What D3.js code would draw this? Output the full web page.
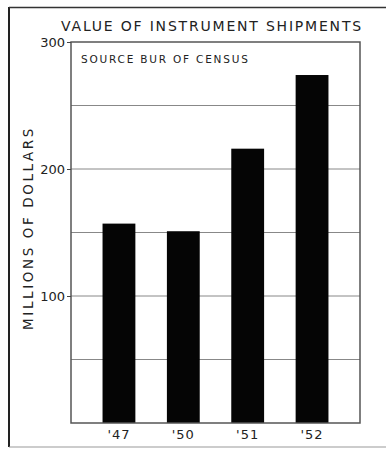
<!DOCTYPE html>
<html>
<head>
<meta charset="utf-8">
<style>
body { margin: 0; background: #fff; }
text { font-family: "DejaVu Sans", sans-serif; fill: #222; }
</style>
</head>
<body>
<svg width="386" height="449"></svg>
<script src="https://d3js.org/d3.v7.min.js"></script>
<script>
var years = ["'47", "'50", "'51", "'52"];
var values = [157, 151, 216, 274];
var tickValues = [100, 200, 300];
var gridValues = [50, 100, 150, 200, 250];

var svg = d3.select("svg"),
  margin = {top: 42, right: 26, bottom: 26, left: 71},
  width = +svg.attr("width") - margin.left - margin.right,
  height = +svg.attr("height") - margin.top - margin.bottom;

// outer frame
svg.append("line").attr("x1", 9).attr("x2", 9).attr("y1", 7).attr("y2", 447)
  .attr("stroke", "#222").attr("stroke-width", 2);
svg.append("line").attr("x1", 9).attr("x2", 386).attr("y1", 7.5).attr("y2", 7.5)
  .attr("stroke", "#333").attr("stroke-width", 1.5);
svg.append("line").attr("x1", 9).attr("x2", 386).attr("y1", 447).attr("y2", 447)
  .attr("stroke", "#999").attr("stroke-width", 1);

var g = svg.append("g").attr("transform", "translate(" + margin.left + "," + margin.top + ")");

var x = d3.scaleBand().domain(years).range([0, width]).padding(0.49);
var y = d3.scaleLinear().domain([0, 300]).range([height, 0]);

g.selectAll(".grid")
  .data(gridValues)
  .enter().append("line")
  .attr("x1", 0).attr("x2", width)
  .attr("y1", function(d) { return y(d); })
  .attr("y2", function(d) { return y(d); })
  .attr("stroke", "#888").attr("stroke-width", 1);

g.selectAll(".bar")
  .data(values)
  .enter().append("rect")
  .attr("x", function(d, i) { return x(years[i]); })
  .attr("width", x.bandwidth())
  .attr("y", function(d) { return y(d); })
  .attr("height", function(d) { return height - y(d); })
  .attr("fill", "#050505");

g.append("rect")
  .attr("width", width).attr("height", height)
  .attr("fill", "none").attr("stroke", "#555").attr("stroke-width", 1.5);

var yAxis = g.append("g")
  .call(d3.axisLeft(y).tickValues(tickValues).tickSize(4).tickPadding(2));
yAxis.select(".domain").remove();
yAxis.selectAll("line").attr("stroke", "#444");
yAxis.selectAll("text").style("font-size", "13px").attr("fill", "#222");

var xAxis = g.append("g")
  .attr("transform", "translate(0," + height + ")")
  .call(d3.axisBottom(x).tickSize(0).tickPadding(7));
xAxis.select(".domain").remove();
xAxis.selectAll("text").style("font-size", "13px").style("letter-spacing", "1px").attr("fill", "#222");

svg.append("text")
  .attr("x", 212).attr("y", 31)
  .attr("text-anchor", "middle")
  .style("font-size", "14px").style("letter-spacing", "1.8px")
  .text("VALUE OF INSTRUMENT SHIPMENTS");

svg.append("text")
  .attr("x", 81).attr("y", 63)
  .style("font-size", "10.5px").style("letter-spacing", "1.8px")
  .text("SOURCE BUR OF CENSUS");

svg.append("text")
  .attr("transform", "translate(33,228) rotate(-90)")
  .attr("text-anchor", "middle")
  .style("font-size", "13.5px").style("letter-spacing", "2.6px")
  .text("MILLIONS OF DOLLARS");
</script>
</body>
</html>
